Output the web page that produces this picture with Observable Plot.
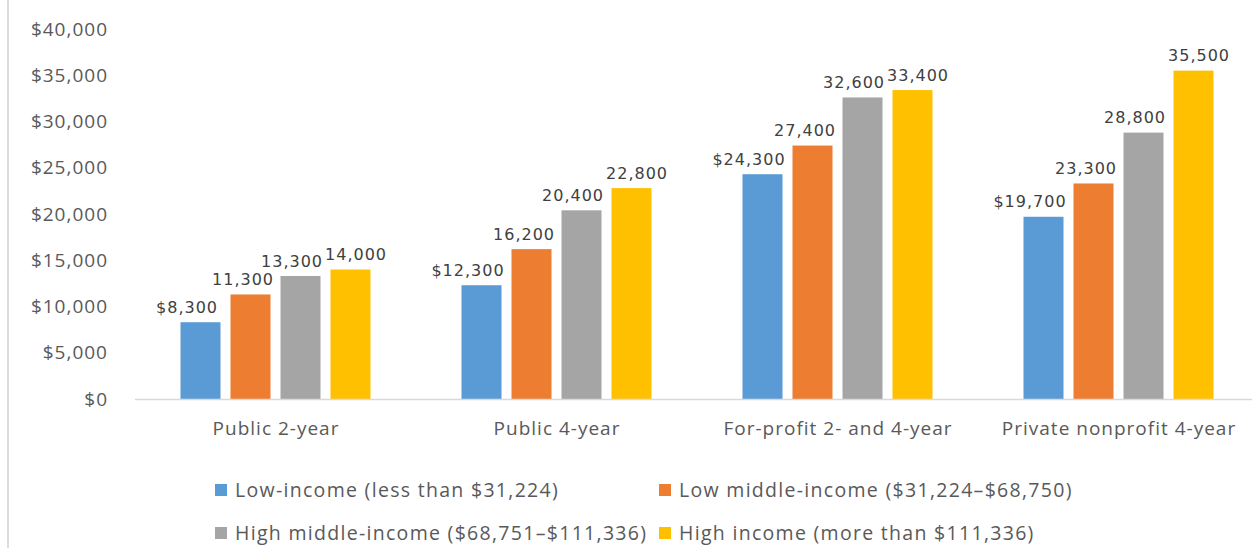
<!DOCTYPE html>
<html>
<head>
<meta charset="utf-8">
<script src="https://cdn.jsdelivr.net/npm/d3@7"></script>
<script src="https://cdn.jsdelivr.net/npm/@observablehq/plot@0.6"></script>
<style>
  html, body { margin: 0; padding: 0; background: #fff; }
  body { width: 1252px; height: 548px; overflow: hidden; position: relative; font-family: "Open Sans", sans-serif; }
  #border { position: absolute; left: 7px; top: 0; width: 2px; height: 548px; background: #dcdcdc; }
  #chart { position: absolute; left: 0; top: 0; width: 1260px; }
  #chart svg { max-width: none !important; }
  .leg { position: absolute; display: flex; align-items: center; font-size: 19.5px; letter-spacing: 1.3px; color: #595959; white-space: nowrap; }
  .leg .sw { width: 12px; height: 12px; margin-right: 8px; }
</style>
</head>
<body>
<div id="border"></div>
<div id="chart"></div>
<div id="legend"></div>
<script>
const categories = ["Public 2-year", "Public 4-year", "For-profit 2- and 4-year", "Private nonprofit 4-year"];
const series = [
  "Low-income (less than $31,224)",
  "Low middle-income ($31,224–$68,750)",
  "High middle-income ($68,751–$111,336)",
  "High income (more than $111,336)"
];
const lowIncome  = [8300, 12300, 24300, 19700];
const lowMiddle  = [11300, 16200, 27400, 23300];
const highMiddle = [13300, 20400, 32600, 28800];
const highIncome = [14000, 22800, 33400, 35500];
const colors = ["#5B9BD5", "#ED7D31", "#A5A5A5", "#FFC000"];
const yTicks = [0, 5000, 10000, 15000, 20000, 25000, 30000, 35000, 40000];

const seriesValues = [lowIncome, lowMiddle, highMiddle, highIncome];
const rows = [];
categories.forEach((c, ci) => {
  series.forEach((s, si) => {
    rows.push({category: c, series: s, si, value: seriesValues[si][ci]});
  });
});
const fmt = d3.format(",");
const labelDx = [-14, -8, -9, 5];

const textMarks = series.map((s, i) => Plot.text(rows.filter(r => r.si === i), {
  fx: "category", x: "series", y: "value",
  text: d => (d.si === 0 ? "$" : "") + fmt(d.value),
  dy: -15, dx: labelDx[i],
  fontFamily: "DejaVu Sans", fontSize: 16, fill: "#404040",
  style: "letter-spacing: 0.5px"
}));

const chart = Plot.plot({
  width: 1260,
  height: 450,
  marginLeft: 134.5,
  marginRight: 0,
  marginTop: 29,
  marginBottom: 51,
  style: {fontFamily: "'Open Sans', sans-serif", fontSize: "19px", color: "#595959", background: "transparent", maxWidth: "none", letterSpacing: "1px"},
  fx: {domain: categories, padding: 0, label: null},
  x: {domain: series, paddingInner: 0.196, paddingOuter: 0.855, axis: null},
  y: {domain: [0, 40000], axis: null},
  color: {domain: series, range: colors},
  marks: [
    Plot.axisY({ticks: yTicks, tickSize: 0, tickPadding: 27.5, label: null,
      tickFormat: d => "$" + fmt(d), fontSize: 19, fill: "#595959"}),
    Plot.axisFx({anchor: "bottom", tickSize: 0, tickPadding: 22, label: null, fontSize: 19, fill: "#595959"}),
    Plot.barY(rows, {fx: "category", x: "series", y: "value", fill: "series"}),
    Plot.ruleY([0], {stroke: "#d9d9d9", strokeWidth: 1.5}),
    ...textMarks
  ]
});
document.getElementById("chart").appendChild(chart);

const legendPos = [
  {left: 215, top: 476},
  {left: 659, top: 476},
  {left: 215, top: 519},
  {left: 659, top: 519}
];
const legend = document.getElementById("legend");
series.forEach((s, i) => {
  const item = document.createElement("div");
  item.className = "leg";
  item.style.left = legendPos[i].left + "px";
  item.style.top = legendPos[i].top + "px";
  const sw = document.createElement("span");
  sw.className = "sw";
  sw.style.background = colors[i];
  const t = document.createElement("span");
  t.textContent = s;
  item.appendChild(sw);
  item.appendChild(t);
  legend.appendChild(item);
});
</script>
</body>
</html>
